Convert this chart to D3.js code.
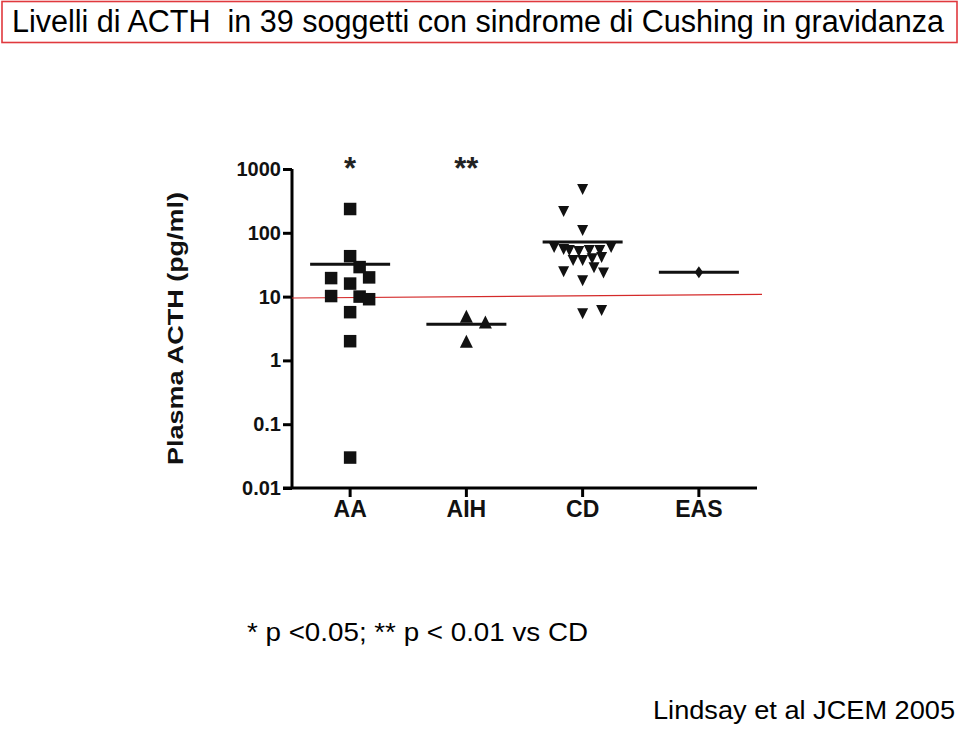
<!DOCTYPE html>
<html>
<head>
<meta charset="utf-8">
<script src="https://cdn.jsdelivr.net/npm/d3@7"></script>
<style>
  html, body { margin: 0; padding: 0; background: #fff; }
  svg { display: block; font-family: "Liberation Sans", Arial, sans-serif; }
  text { white-space: pre; }
</style>
</head>
<body>
<svg id="chart" width="960" height="730"></svg>
<script>
// ---------------- data ----------------
const categories = ["AA", "AIH", "CD", "EAS"];
const significance = ["*", "**", "", ""];
const yTickValues = [0.01, 0.1, 1, 10, 100, 1000];
const yTickLabels = ["0.01", "0.1", "1", "10", "100", "1000"];

const aaValues  = [236, 43, 29, 20, 19.5, 16, 10.2, 10, 9.1, 5.7, 2.0, 0.03];
const aaSlots   = [0, 0, 1, 2, -2, 0, -2, 1, 2, 0, 0, 0];

const aihValues = [4.8, 3.9, 1.95];
const aihSlots  = [0, 2, 0];

const cdValues  = [486, 220, 111, 60, 56, 54, 52, 54, 54, 60, 37.5, 37.5, 40, 42, 25, 29, 24, 18, 5.5, 6.2];
const cdSlots   = [0, -2, 0, -3, -2, -1.4, -0.4, 0.7, 1.8, 3, -1, 0, 1, 2, -2, 1.2, 2.2, 0, 0, 2];

const easValues = [24];
const easSlots  = [0];

const medians   = [32, 3.7, 72, 24];
const refLine   = [9.5, 10.8];   // hand-drawn red line: value at left and right end

const titleText  = "Livelli di ACTH  in 39 soggetti con sindrome di Cushing in gravidanza";
const yAxisTitle = "Plasma ACTH (pg/ml)";
const footnote   = "* p <0.05; ** p < 0.01 vs CD";
const sourceText = "Lindsay et al JCEM 2005";

// ---------------- layout ----------------
const svg = d3.select("#chart");
const plotLeft = 292, plotRight = 757, plotTop = 169, plotBottom = 488;
const slotW = 9.5;

const x = d3.scaleBand().domain(categories).range([plotLeft, plotRight]).padding(0);
const xc = c => x(c) + x.bandwidth() / 2;
const y = d3.scaleLog().domain([0.01, 1000]).range([plotBottom, plotTop]);

// title box
svg.append("rect")
  .attr("x", 2).attr("y", 1.5).attr("width", 955).attr("height", 41)
  .attr("fill", "none").attr("stroke", "#e0393e").attr("stroke-width", 1.6);
svg.append("text")
  .attr("x", 12).attr("y", 32)
  .attr("font-size", 31)
  .attr("textLength", 932).attr("lengthAdjust", "spacingAndGlyphs")
  .attr("fill", "#000")
  .text(titleText);

// axes
const yAxis = d3.axisLeft(y)
  .tickValues(yTickValues)
  .tickFormat((d, i) => yTickLabels[i])
  .tickSize(9).tickPadding(2);
const gy = svg.append("g").attr("transform", `translate(${plotLeft},0)`).call(yAxis);
gy.select(".domain").attr("d", `M0,${plotTop}V${plotBottom}`).attr("stroke-width", 3);
gy.selectAll(".tick line").attr("stroke-width", 3);
gy.selectAll(".tick text")
  .attr("font-size", 20).attr("font-weight", "bold")
  .attr("font-family", "\"Liberation Sans\", Arial, sans-serif")
  .attr("fill", "#111");

const xAxis = d3.axisBottom(x).tickSize(9).tickPadding(4);
const gx = svg.append("g").attr("transform", `translate(0,${plotBottom})`).call(xAxis);
gx.select(".domain").attr("d", `M${plotLeft - 9},0H${plotRight}`).attr("stroke-width", 3);
gx.selectAll(".tick line").attr("stroke-width", 3);
gx.selectAll(".tick text")
  .attr("font-size", 23).attr("font-weight", "bold")
  .attr("font-family", "\"Liberation Sans\", Arial, sans-serif")
  .attr("fill", "#111");

// y axis title
svg.append("text")
  .attr("transform", `translate(183,${(192 + 465) / 2}) rotate(-90)`)
  .attr("text-anchor", "middle")
  .attr("font-size", 22).attr("font-weight", "bold").attr("fill", "#111")
  .attr("textLength", 273).attr("lengthAdjust", "spacingAndGlyphs")
  .text(yAxisTitle);

// red reference line
svg.append("line")
  .attr("x1", plotLeft).attr("x2", plotRight + 5)
  .attr("y1", y(refLine[0])).attr("y2", y(refLine[1]))
  .attr("stroke", "#d42a2a").attr("stroke-width", 1.2);

// marker shapes
const shapes = {
  square: (s) => { const h = s / 2; return `M${-h},${-h}h${s}v${s}h${-s}Z`; },
  up: (s) => `M0,${-s * 0.55}L${s / 2},${s * 0.45}L${-s / 2},${s * 0.45}Z`,
  down: (s) => `M0,${s * 0.55}L${s / 2},${-s * 0.45}L${-s / 2},${-s * 0.45}Z`,
  diamond: (s) => `M0,${-s * 0.6}L${s * 0.42},0L0,${s * 0.6}L${-s * 0.42},0Z`
};

const groups = [
  { cat: "AA",  values: aaValues,  slots: aaSlots,  shape: "square",  size: 12.5 },
  { cat: "AIH", values: aihValues, slots: aihSlots, shape: "up",      size: 13 },
  { cat: "CD",  values: cdValues,  slots: cdSlots,  shape: "down",    size: 11 },
  { cat: "EAS", values: easValues, slots: easSlots, shape: "diamond", size: 10 }
];

// median lines
svg.append("g").selectAll("line")
  .data(categories)
  .join("line")
  .attr("x1", c => xc(c) - 40).attr("x2", c => xc(c) + 40)
  .attr("y1", (c, i) => y(medians[i])).attr("y2", (c, i) => y(medians[i]))
  .attr("stroke", "#111").attr("stroke-width", 3);

// points
groups.forEach(g => {
  const pts = g.values.map((v, i) => ({ v, s: g.slots[i] }));
  svg.append("g").selectAll("path")
    .data(pts)
    .join("path")
    .attr("d", shapes[g.shape](g.size))
    .attr("transform", d => `translate(${xc(g.cat) + d.s * slotW},${y(d.v)})`)
    .attr("fill", "#111");
});

// significance marks
svg.append("g").selectAll("text")
  .data(categories)
  .join("text")
  .attr("x", c => xc(c)).attr("y", 179)
  .attr("text-anchor", "middle")
  .attr("font-size", 31).attr("font-weight", "bold").attr("fill", "#222")
  .text((c, i) => significance[i]);

// footnote & source
svg.append("text")
  .attr("x", 247).attr("y", 641)
  .attr("font-size", 26).attr("fill", "#000")
  .attr("textLength", 341).attr("lengthAdjust", "spacingAndGlyphs")
  .text(footnote);
svg.append("text")
  .attr("x", 653).attr("y", 719)
  .attr("font-size", 25).attr("fill", "#000")
  .attr("textLength", 302).attr("lengthAdjust", "spacingAndGlyphs")
  .text(sourceText);
</script>
</body>
</html>
